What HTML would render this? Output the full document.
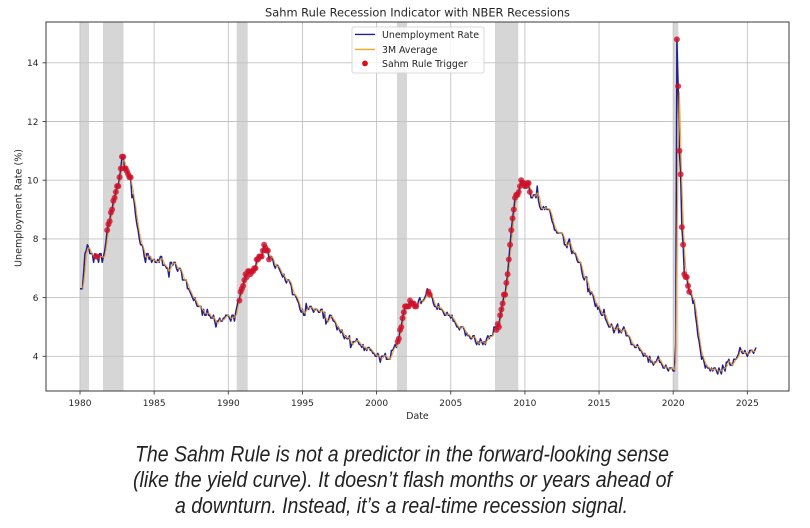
<!DOCTYPE html>
<html>
<head>
<meta charset="utf-8">
<style>
  html,body{margin:0;padding:0;background:#fff;}
  body{width:810px;height:528px;overflow:hidden;}
  svg{display:block;}
  .dj{font-family:"DejaVu Sans","Liberation Sans",sans-serif;fill:#262626;}
  .cap{font-family:"Liberation Sans",Arial,sans-serif;font-style:italic;fill:#222;font-size:22px;}
</style>
</head>
<body>
<svg id="chart" width="810" height="528" viewBox="0 0 810 528" xmlns="http://www.w3.org/2000/svg">
  <rect x="0" y="0" width="810" height="528" fill="#fff"/>
  <defs>
    <clipPath id="ax"><rect x="46" y="22" width="743" height="369"/></clipPath>
  </defs>

  <!-- recession bands -->
  <g fill="#d6d6d6">
    <rect x="79.5" y="22" width="9.5" height="369"/>
    <rect x="103" y="22" width="20.5" height="369"/>
    <rect x="236.7" y="22" width="11" height="369"/>
    <rect x="397" y="22" width="10" height="369"/>
    <rect x="495" y="22" width="23.3" height="369"/>
    <rect x="673.3" y="22" width="5" height="369"/>
  </g>

  <!-- grid -->
  <g stroke="#c2c2c2" stroke-width="0.9">
    <line x1="80" y1="22" x2="80" y2="391"/>
    <line x1="154.15" y1="22" x2="154.15" y2="391"/>
    <line x1="228.3" y1="22" x2="228.3" y2="391"/>
    <line x1="302.45" y1="22" x2="302.45" y2="391"/>
    <line x1="376.6" y1="22" x2="376.6" y2="391"/>
    <line x1="450.75" y1="22" x2="450.75" y2="391"/>
    <line x1="524.9" y1="22" x2="524.9" y2="391"/>
    <line x1="599.05" y1="22" x2="599.05" y2="391"/>
    <line x1="673.2" y1="22" x2="673.2" y2="391"/>
    <line x1="747.35" y1="22" x2="747.35" y2="391"/>
    <line x1="46" y1="356.3" x2="789" y2="356.3"/>
    <line x1="46" y1="297.6" x2="789" y2="297.6"/>
    <line x1="46" y1="238.9" x2="789" y2="238.9"/>
    <line x1="46" y1="180.2" x2="789" y2="180.2"/>
    <line x1="46" y1="121.5" x2="789" y2="121.5"/>
    <line x1="46" y1="62.8" x2="789" y2="62.8"/>
  </g>

  <!-- data (generated) -->
  <g id="data" clip-path="url(#ax)"></g>

  <!-- spines -->
  <rect x="46" y="22" width="743" height="369" fill="none" stroke="#3a3a3a" stroke-width="1"/>

  <!-- ticks -->
  <g stroke="#3a3a3a" stroke-width="0.9">
    <line x1="80" y1="391" x2="80" y2="394.5"/>
    <line x1="154.15" y1="391" x2="154.15" y2="394.5"/>
    <line x1="228.3" y1="391" x2="228.3" y2="394.5"/>
    <line x1="302.45" y1="391" x2="302.45" y2="394.5"/>
    <line x1="376.6" y1="391" x2="376.6" y2="394.5"/>
    <line x1="450.75" y1="391" x2="450.75" y2="394.5"/>
    <line x1="524.9" y1="391" x2="524.9" y2="394.5"/>
    <line x1="599.05" y1="391" x2="599.05" y2="394.5"/>
    <line x1="673.2" y1="391" x2="673.2" y2="394.5"/>
    <line x1="747.35" y1="391" x2="747.35" y2="394.5"/>
    <line x1="42.5" y1="356.3" x2="46" y2="356.3"/>
    <line x1="42.5" y1="297.6" x2="46" y2="297.6"/>
    <line x1="42.5" y1="238.9" x2="46" y2="238.9"/>
    <line x1="42.5" y1="180.2" x2="46" y2="180.2"/>
    <line x1="42.5" y1="121.5" x2="46" y2="121.5"/>
    <line x1="42.5" y1="62.8" x2="46" y2="62.8"/>
  </g>

  <!-- x tick labels -->
  <g class="dj" font-size="9" text-anchor="middle">
    <text x="80" y="405.8">1980</text>
    <text x="154.15" y="405.8">1985</text>
    <text x="228.3" y="405.8">1990</text>
    <text x="302.45" y="405.8">1995</text>
    <text x="376.6" y="405.8">2000</text>
    <text x="450.75" y="405.8">2005</text>
    <text x="524.9" y="405.8">2010</text>
    <text x="599.05" y="405.8">2015</text>
    <text x="673.2" y="405.8">2020</text>
    <text x="747.35" y="405.8">2025</text>
  </g>
  <!-- y tick labels -->
  <g class="dj" font-size="9" text-anchor="end">
    <text x="38.5" y="359.6">4</text>
    <text x="38.5" y="300.9">6</text>
    <text x="38.5" y="242.2">8</text>
    <text x="38.5" y="183.5">10</text>
    <text x="38.5" y="124.8">12</text>
    <text x="38.5" y="66.1">14</text>
  </g>

  <!-- axis labels & title -->
  <text class="dj" x="417.5" y="419.2" font-size="9.4" text-anchor="middle">Date</text>
  <text class="dj" font-size="9.4" text-anchor="middle" transform="translate(21.6,208) rotate(-90)" textLength="118" lengthAdjust="spacingAndGlyphs">Unemployment Rate (%)</text>
  <text class="dj" x="417.5" y="16.6" font-size="11.5" text-anchor="middle" textLength="305" lengthAdjust="spacingAndGlyphs">Sahm Rule Recession Indicator with NBER Recessions</text>

  <!-- legend -->
  <rect x="352" y="27" width="132" height="46" rx="2" fill="#fff" fill-opacity="0.82" stroke="#d0d0d0" stroke-width="0.8"/>
  <line x1="355" y1="34.4" x2="375" y2="34.4" stroke="#1f1f9a" stroke-width="1.4"/>
  <line x1="355" y1="49.4" x2="375" y2="49.4" stroke="#f4a623" stroke-width="1.4"/>
  <circle cx="365" cy="63.4" r="2.9" fill="#d8101e"/>
  <g class="dj" font-size="9.4">
    <text x="382" y="37.8" textLength="97" lengthAdjust="spacingAndGlyphs">Unemployment Rate</text>
    <text x="382" y="52.8">3M Average</text>
    <text x="382" y="66.8">Sahm Rule Trigger</text>
  </g>

  <!-- caption -->
  <text class="cap" x="135" y="461.3" textLength="534" lengthAdjust="spacingAndGlyphs">The Sahm Rule is not a predictor in the forward-looking sense</text>
  <text class="cap" x="133" y="487" textLength="539" lengthAdjust="spacingAndGlyphs">(like the yield curve). It doesn’t flash months or years ahead of</text>
  <text class="cap" x="175" y="513.2" textLength="453" lengthAdjust="spacingAndGlyphs">a downturn. Instead, it’s a real-time recession signal.</text>
</svg>

<script>
(function(){
  var d = [
  6.3,6.3,6.3,6.9,7.5,7.6,7.8,7.7,7.5,7.5,7.5,7.2,
  7.5,7.4,7.4,7.2,7.5,7.5,7.2,7.4,7.6,7.9,8.3,8.5,
  8.6,8.9,9.0,9.3,9.4,9.6,9.8,9.8,10.1,10.4,10.8,10.8,
  10.4,10.4,10.3,10.2,10.1,10.1,9.4,9.5,9.2,8.8,8.5,8.3,
  8.0,7.8,7.8,7.7,7.4,7.2,7.5,7.5,7.3,7.4,7.2,7.3,
  7.3,7.2,7.2,7.3,7.2,7.4,7.4,7.1,7.1,7.1,7.0,7.0,
  6.7,7.2,7.2,7.1,7.2,7.2,7.0,6.9,7.0,7.0,6.9,6.6,
  6.6,6.6,6.6,6.3,6.3,6.2,6.1,6.0,5.9,6.0,5.8,5.7,
  5.7,5.7,5.7,5.4,5.6,5.4,5.4,5.6,5.4,5.4,5.3,5.3,
  5.4,5.2,5.0,5.2,5.2,5.3,5.2,5.2,5.3,5.3,5.4,5.4,
  5.4,5.3,5.2,5.4,5.4,5.2,5.5,5.7,5.9,5.9,6.2,6.3,
  6.4,6.6,6.8,6.7,6.9,6.9,6.8,6.9,6.9,7.0,7.0,7.3,
  7.3,7.4,7.4,7.4,7.6,7.8,7.7,7.6,7.6,7.3,7.4,7.4,
  7.3,7.1,7.0,7.1,7.1,7.0,6.9,6.8,6.7,6.8,6.6,6.5,
  6.6,6.6,6.5,6.4,6.1,6.1,6.1,6.0,5.9,5.8,5.6,5.5,
  5.6,5.4,5.4,5.8,5.6,5.6,5.7,5.7,5.6,5.5,5.6,5.6,
  5.6,5.5,5.5,5.6,5.6,5.3,5.5,5.1,5.2,5.2,5.4,5.4,
  5.3,5.2,5.2,5.1,4.9,5.0,4.9,4.8,4.9,4.7,4.6,4.7,
  4.6,4.6,4.7,4.3,4.4,4.5,4.5,4.5,4.6,4.5,4.4,4.4,
  4.3,4.4,4.2,4.3,4.2,4.3,4.3,4.2,4.2,4.1,4.1,4.0,
  4.0,4.1,4.0,3.8,4.0,4.0,4.0,4.1,3.9,3.9,3.9,3.9,
  4.2,4.2,4.3,4.4,4.3,4.5,4.6,4.9,5.0,5.3,5.5,5.7,
  5.7,5.7,5.7,5.9,5.8,5.8,5.8,5.7,5.7,5.7,5.9,6.0,
  5.8,5.9,5.9,6.0,6.1,6.3,6.2,6.1,6.1,6.0,5.8,5.7,
  5.7,5.6,5.8,5.6,5.6,5.6,5.5,5.4,5.4,5.5,5.4,5.4,
  5.3,5.4,5.2,5.2,5.1,5.0,5.0,4.9,5.0,5.0,5.0,4.9,
  4.7,4.8,4.7,4.7,4.6,4.6,4.7,4.7,4.5,4.4,4.5,4.4,
  4.6,4.5,4.4,4.5,4.4,4.6,4.7,4.6,4.7,4.7,4.7,5.0,
  5.0,4.9,5.1,5.0,5.4,5.6,5.8,6.1,6.1,6.5,6.8,7.3,
  7.8,8.3,8.7,9.0,9.4,9.5,9.5,9.6,9.8,10.0,9.9,9.9,
  9.8,9.8,9.9,9.9,9.6,9.4,9.4,9.5,9.5,9.4,9.8,9.3,
  9.1,9.0,9.0,9.1,9.0,9.1,9.0,9.0,9.0,8.8,8.6,8.5,
  8.3,8.3,8.2,8.2,8.2,8.2,8.2,8.1,7.8,7.8,7.7,7.9,
  8.0,7.7,7.5,7.6,7.5,7.5,7.3,7.2,7.2,7.2,6.9,6.7,
  6.6,6.7,6.7,6.2,6.3,6.1,6.2,6.1,5.9,5.7,5.8,5.6,
  5.7,5.5,5.4,5.4,5.6,5.3,5.2,5.1,5.0,5.0,5.1,5.0,
  4.8,4.9,5.0,5.1,4.8,4.9,4.8,4.9,5.0,4.9,4.7,4.7,
  4.7,4.6,4.4,4.4,4.4,4.3,4.3,4.4,4.3,4.2,4.2,4.1,
  4.0,4.1,4.0,4.0,3.8,4.0,3.8,3.8,3.7,3.8,3.8,3.9,
  4.0,3.8,3.8,3.7,3.6,3.6,3.7,3.6,3.5,3.6,3.6,3.6,
  3.5,3.5,4.4,14.8,13.2,11.0,10.2,8.4,7.8,6.8,6.7,6.7,
  6.4,6.2,6.1,6.1,5.8,5.9,5.4,5.1,4.7,4.5,4.2,3.9,
  4.0,3.8,3.6,3.7,3.6,3.6,3.5,3.6,3.5,3.6,3.6,3.5,
  3.4,3.6,3.5,3.4,3.7,3.6,3.5,3.8,3.8,3.9,3.7,3.7,
  3.7,3.9,3.9,3.9,4.0,4.1,4.3,4.2,4.1,4.1,4.2,4.1,
  4.0,4.1,4.2,4.2,4.2,4.1,4.2,4.3
  ];
  function X(i){ return 80 + (i/12)*14.83; }
  function Y(v){ return 356.3 - (v-4)*29.35; }
  var n = d.length, avg = [], i, j;
  for(i=0;i<n;i++){ avg.push(i>=2 ? (d[i]+d[i-1]+d[i-2])/3 : null); }
  var pU = [], pA = [];
  for(i=0;i<n;i++){
    pU.push(X(i).toFixed(2)+','+Y(d[i]).toFixed(2));
    if(avg[i]!==null) pA.push(X(i).toFixed(2)+','+Y(avg[i]).toFixed(2));
  }
  var ns = 'http://www.w3.org/2000/svg';
  var g = document.getElementById('data');
  function poly(pts, col, w, op){
    var p = document.createElementNS(ns,'polyline');
    p.setAttribute('points', pts.join(' '));
    p.setAttribute('fill','none');
    p.setAttribute('stroke',col);
    p.setAttribute('stroke-width',w);
    p.setAttribute('stroke-linejoin','round');
    if(op) p.setAttribute('stroke-opacity',op);
    g.appendChild(p);
  }
  poly(pU, '#22228c', 1.5);
  poly(pA, '#f0a030', 1.1, 0.9);
  var limit = (2022-1980)*12;
  for(i=13;i<n && i<limit;i++){
    var mn = Infinity;
    for(j=i-11;j<=i;j++){ if(avg[j]<mn) mn=avg[j]; }
    if(avg[i]-mn >= 0.5 - 1e-9){
      var c = document.createElementNS(ns,'circle');
      c.setAttribute('cx', X(i).toFixed(2));
      c.setAttribute('cy', Y(d[i]).toFixed(2));
      c.setAttribute('r', 3);
      c.setAttribute('fill', '#d0102a');
      c.setAttribute('fill-opacity', '0.8');
      g.appendChild(c);
    }
  }
})();
</script>
</body>
</html>
